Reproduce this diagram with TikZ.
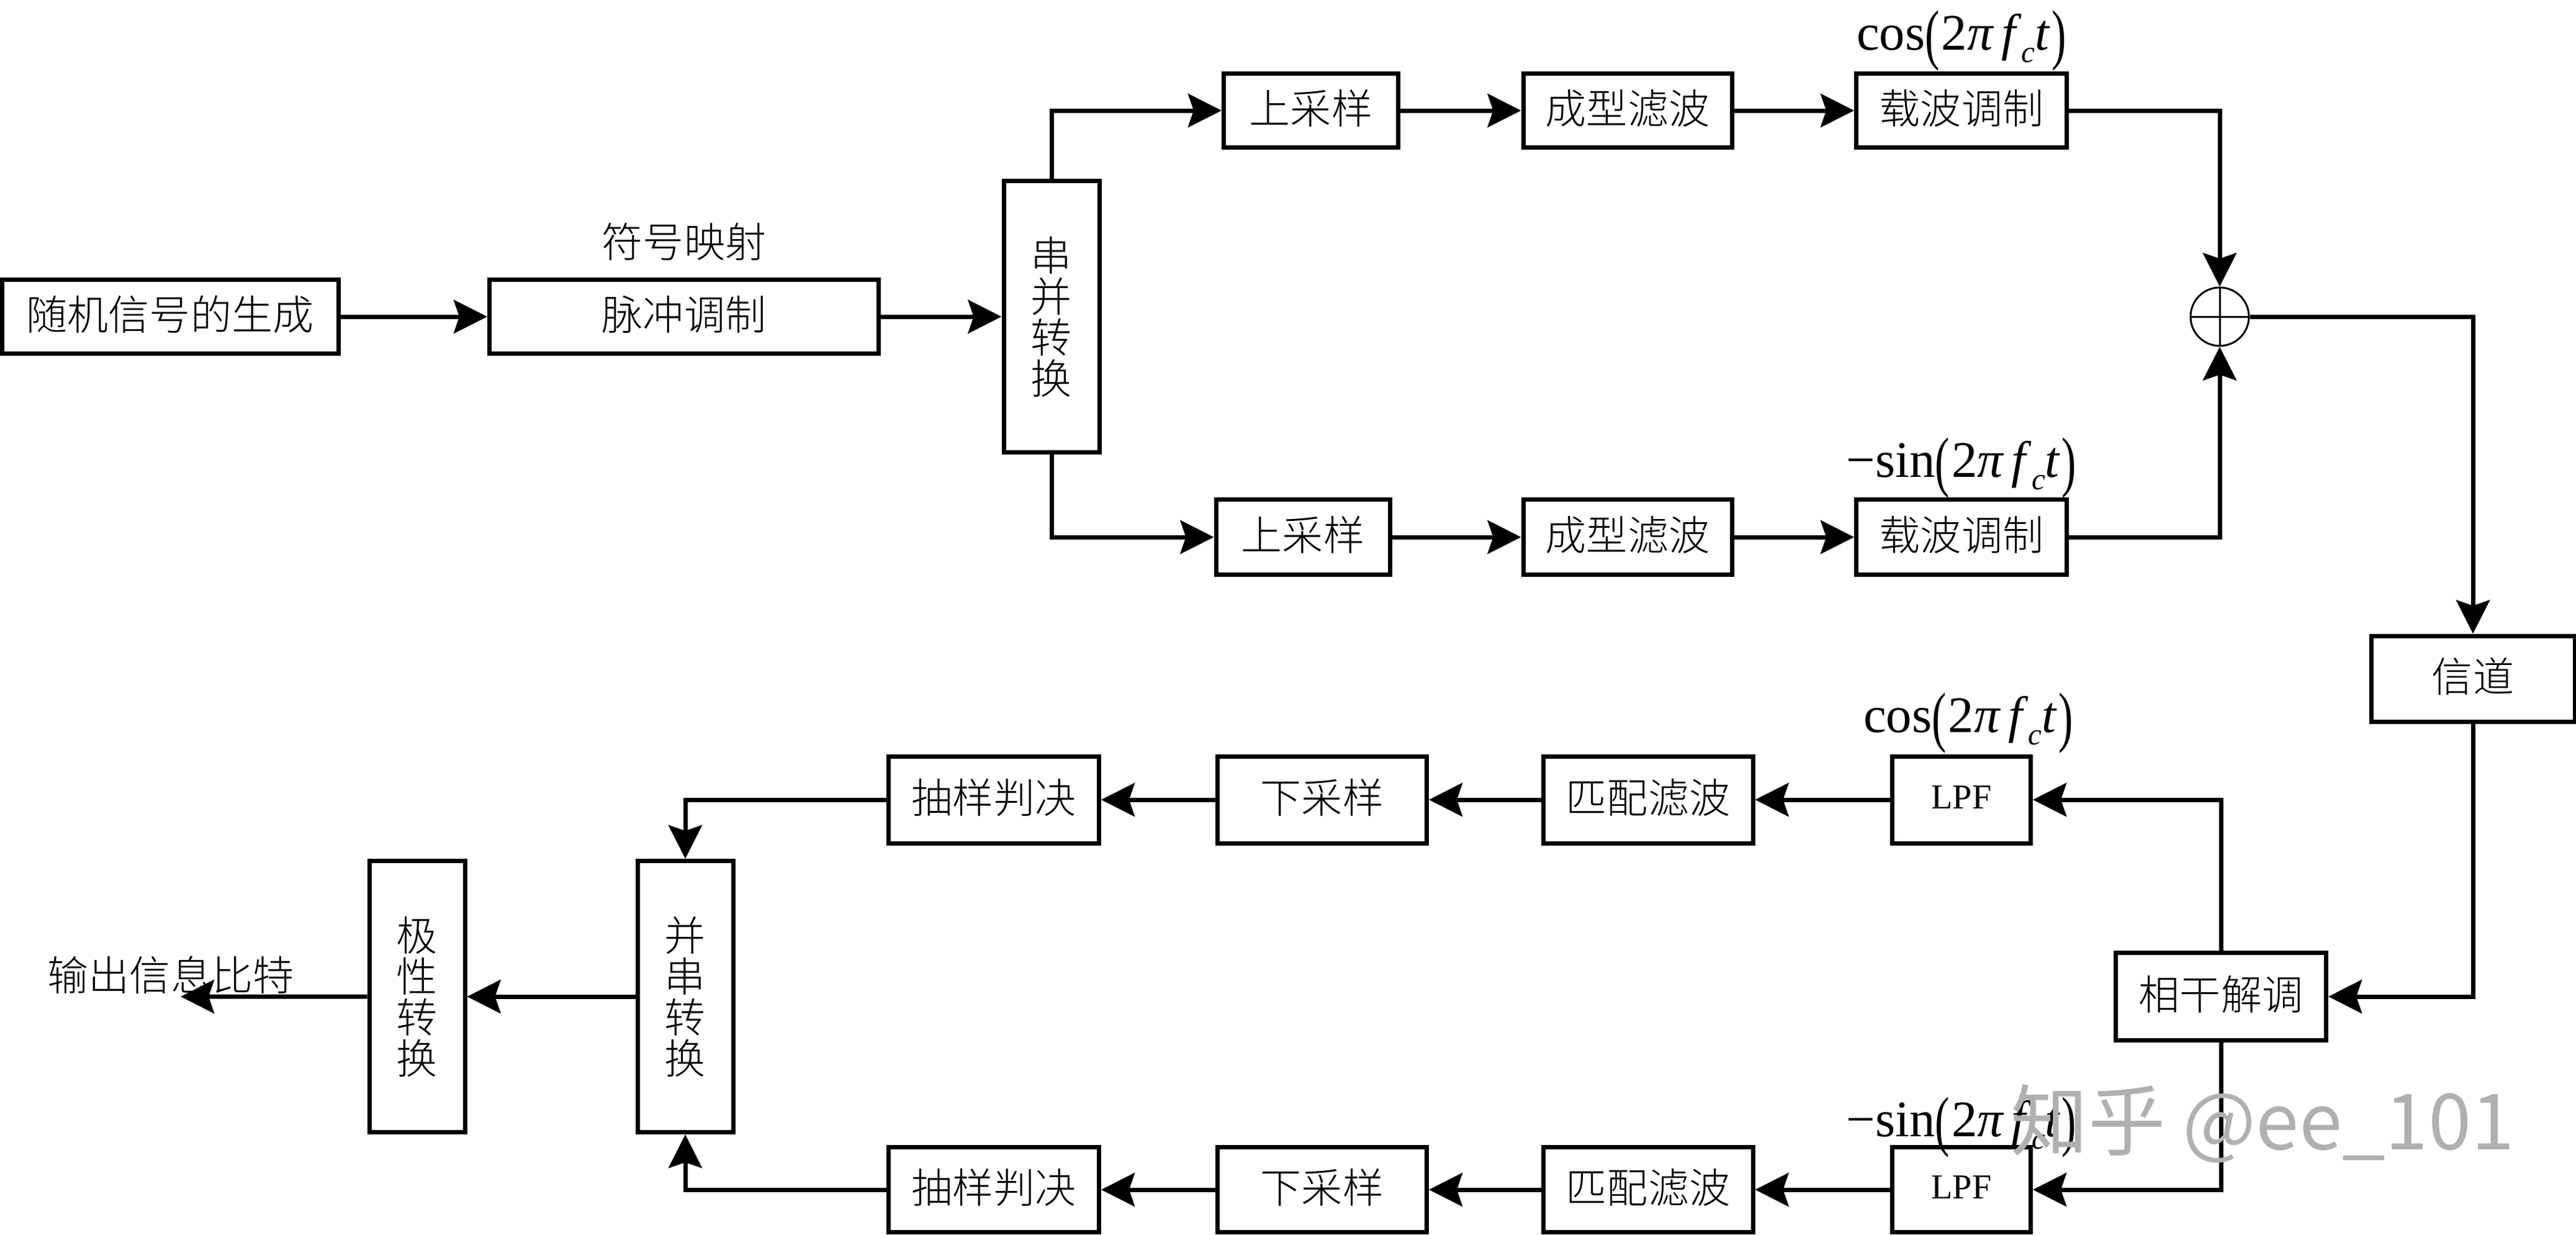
\documentclass[tikz,border=0pt]{standalone}
\usepackage{fontspec}
\usepackage{tikz}
\usetikzlibrary{arrows.meta}
\setmainfont{Liberation Serif}
\newfontfamily\cjk{Noto Sans CJK SC Light}
\newfontfamily\markfont{Noto Sans CJK SC}
\definecolor{mark-gray}{rgb}{0.69, 0.69, 0.69}
\newcommand{\tall}[1]{\raisebox{-0.14em}{\scalebox{0.85}[1.3]{#1}}}
\newcommand{\carrierarg}{\tall{(}\kern0.04em 2\textit{π}\kern0.14em\textit{f}\raisebox{-0.25em}{\fontsize{14}{14}\selectfont\textit{c}}\textit{t}\kern0.03em\tall{)}}
\tikzset{
	block/.style={draw, fill=white, line width=0.07cm, inner sep=0pt, align=center, font=\cjk\fontsize{18.8}{18.8}\selectfont},
	cell/.style={block, text height=0.60cm, text depth=0.18cm},
	lpf/.style={block, text height=0.39cm, text depth=0.10cm, font=\fontsize{16}{16}\selectfont},
	formula/.style={inner sep=0pt, font=\fontsize{23.5}{26}\selectfont},
	caption/.style={inner sep=0pt, font=\cjk\fontsize{18.8}{18.8}\selectfont},
	flow/.style={line width=0.07cm, -{Stealth[length=0.54cm, width=0.54cm, inset=0.09cm]}},
	adder/.style={draw, circle, fill=white, line width=0.03cm, minimum size=0.94cm, inner sep=0pt,
		path picture={\draw[line width=0.03cm] (path picture bounding box.north) -- (path picture bounding box.south)
			(path picture bounding box.west) -- (path picture bounding box.east);}}
}
\begin{document}
\begin{tikzpicture}[node distance=2cm]
		\useasboundingbox (0,0) rectangle (41.5,-19.88);
		
		% Draw the source and the symbol mapping
		\node (source) [cell, minimum width=5.42cm, minimum height=1.19cm] at (2.74,-5.10) {随机信号的生成};
		\node (pulse) [cell, minimum width=6.27cm, minimum height=1.19cm, right of=source, xshift=6.28cm] {脉冲调制};
		\node (mapping) [caption, above of=pulse, yshift=-0.79cm] {符号映射};
		\node (sp) [block, minimum width=1.54cm, minimum height=4.37cm, right of=pulse, xshift=3.92cm] {串\\并\\转\\换};
		
		% Draw the upper transmit branch
		\node (upa) [cell, minimum width=2.81cm, minimum height=1.19cm, right of=sp, xshift=2.18cm, yshift=3.32cm] {上采样};
		\node (shapea) [cell, minimum width=3.36cm, minimum height=1.19cm, right of=upa, xshift=3.10cm] {成型滤波};
		\node (moda) [cell, minimum width=3.39cm, minimum height=1.19cm, right of=shapea, xshift=3.38cm] {载波调制};
		\node (cosa) [formula, above of=moda, yshift=-0.88cm] {cos\carrierarg};
		
		% Draw the lower transmit branch
		\node (upb) [cell, minimum width=2.80cm, minimum height=1.21cm, right of=sp, xshift=2.05cm, yshift=-3.55cm] {上采样};
		\node (shapeb) [cell, minimum width=3.36cm, minimum height=1.21cm, right of=upb, xshift=3.23cm] {成型滤波};
		\node (modb) [cell, minimum width=3.39cm, minimum height=1.21cm, right of=shapeb, xshift=3.38cm] {载波调制};
		\node (sina) [formula, above of=modb, yshift=-0.89cm] {−sin\carrierarg};
		
		% Draw the adder and the channel
		\node (sum) [adder, right of=moda, xshift=2.16cm, yshift=-3.32cm] {};
		\node (channel) [cell, minimum width=3.28cm, minimum height=1.38cm, right of=sum, xshift=2.08cm, yshift=-5.83cm] {信道};
		\node (demod) [cell, minimum width=3.39cm, minimum height=1.41cm, below of=channel, xshift=-4.06cm, yshift=-3.12cm] {相干解调};
		
		% Draw the upper receive branch
		\node (lpfa) [lpf, minimum width=2.23cm, minimum height=1.40cm, left of=demod, xshift=-2.18cm, yshift=3.17cm] {LPF};
		\node (cosb) [formula, above of=lpfa, xshift=0.11cm, yshift=-0.77cm] {cos\carrierarg};
		\node (matcha) [cell, minimum width=3.38cm, minimum height=1.40cm, left of=lpfa, xshift=-3.05cm] {匹配滤波};
		\node (downa) [cell, minimum width=3.37cm, minimum height=1.40cm, left of=matcha, xshift=-3.25cm] {下采样};
		\node (deca) [cell, minimum width=3.39cm, minimum height=1.40cm, left of=downa, xshift=-3.29cm] {抽样判决};
		
		% Draw the lower receive branch
		\node (lpfb) [lpf, minimum width=2.23cm, minimum height=1.37cm, left of=demod, xshift=-2.18cm, yshift=-3.11cm] {LPF};
		\node (sinb) [formula, above of=lpfb, yshift=-1.00cm] {−sin\carrierarg};
		\node (matchb) [cell, minimum width=3.38cm, minimum height=1.37cm, left of=lpfb, xshift=-3.05cm] {匹配滤波};
		\node (downb) [cell, minimum width=3.37cm, minimum height=1.37cm, left of=matchb, xshift=-3.25cm] {下采样};
		\node (decb) [cell, minimum width=3.39cm, minimum height=1.37cm, left of=downb, xshift=-3.29cm] {抽样判决};
		
		% Draw the output side
		\node (ps) [block, minimum width=1.54cm, minimum height=4.37cm, left of=demod, xshift=-22.74cm] {并\\串\\转\\换};
		\node (polar) [block, minimum width=1.54cm, minimum height=4.37cm, left of=ps, xshift=-2.32cm] {极\\性\\转\\换};
		\coordinate (out) at (2.91,-16.05);
		\node (outlabel) [caption, above of=out, xshift=-0.16cm, yshift=-1.65cm] {输出信息比特};
		
		% Connect the blocks with arrows
		\draw[flow] (source) -- (pulse);
		\draw[flow] (pulse) -- (sp);
		\draw[flow] (sp.north) |- (upa);
		\draw[flow] (upa) -- (shapea);
		\draw[flow] (shapea) -- (moda);
		\draw[flow] (moda) -| (sum);
		\draw[flow] (sp.south) |- (upb);
		\draw[flow] (upb) -- (shapeb);
		\draw[flow] (shapeb) -- (modb);
		\draw[flow] (modb) -| (sum);
		\draw[flow] (sum) -| (channel);
		\draw[flow] (channel) |- (demod);
		\draw[flow] (demod) |- (lpfa);
		\draw[flow] (lpfa) -- (matcha);
		\draw[flow] (matcha) -- (downa);
		\draw[flow] (downa) -- (deca);
		\draw[flow] (deca) -| (ps);
		\draw[flow] (demod) |- (lpfb);
		\draw[flow] (lpfb) -- (matchb);
		\draw[flow] (matchb) -- (downb);
		\draw[flow] (downb) -- (decb);
		\draw[flow] (decb) -| (ps);
		\draw[flow] (ps) -- (polar);
		\draw[flow] (polar) -- (out);
		
		% Draw the mark over the lower right corner
		\node (mark) [text=mark-gray, inner sep=0pt, font=\markfont\fontsize{35.5}{36}\selectfont] at (36.45,-18.10) {知乎 @ee\_101};
		\end{tikzpicture}
\end{document}
